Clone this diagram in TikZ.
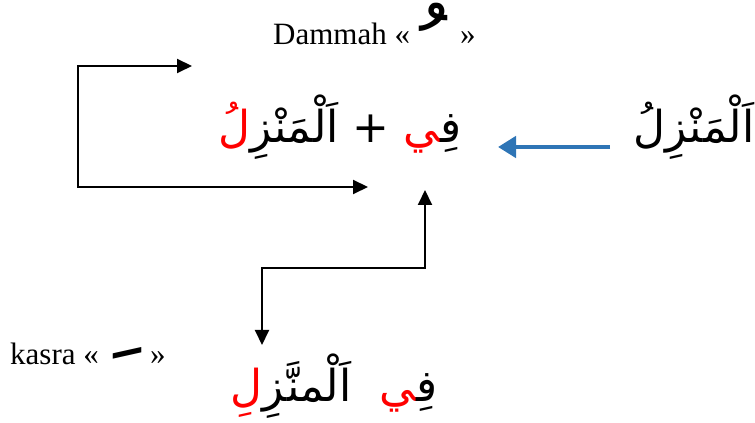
\documentclass[tikz,border=0pt]{standalone}
\usepackage{fontspec}
\setmainfont{Liberation Serif}
\newfontfamily\arabicfont[Script=Arabic]{DejaVu Sans}
\usetikzlibrary{arrows.meta}
\definecolor{arrblue}{RGB}{46,117,182}
\newcommand{\zwj}{\char"200D\relax}
\newcommand{\nbsp}{\char"00A0\relax}
\begin{document}
\begin{tikzpicture}[x=1pt,y=1pt,
  lbl/.style={inner sep=0pt,anchor=base west,font=\fontsize{31}{33}\selectfont},
  ar/.style={inner sep=0pt,anchor=base,font=\arabicfont\fontsize{44}{48}\selectfont},
  diacr/.style={inner sep=0pt,anchor=base,font=\arabicfont\fontsize{100}{100}\selectfont},
  bracket/.style={line width=2pt,{Triangle[length=15pt,width=14pt]}-{Triangle[length=15pt,width=14pt]}},
  blue arrow/.style={line width=4.5pt,arrblue,-{Triangle[length=18pt,width=21pt]}}]
\useasboundingbox (0,0) rectangle (755,423);
% labels
\node[lbl] (dammah) at (273,378) {Dammah «};
\node[lbl] (dclose) at (460,378) {»};
\node[diacr] (dmark) at (424,332) {\nbsp ُ};
\node[lbl] (kasra) at (10,58) {kasra «};
\node[lbl] (kclose) at (150,58) {»};
\node[diacr] (kmark) at (118,77) {\nbsp ِ};
% arabic texts (visual order, left to right)
\node[ar] (src) at (694,280) {اَلْمَنْزِلُ};
\node[ar] (mid) at (340,280) {\textcolor{red}{لُ}اَلْمَنْزِ + \textcolor{red}{\zwj ي}فِ\zwj};
\node[ar] (res) at (334,21) {\textcolor{red}{لِ}اَلْمنَّزِ\ \ \textcolor{red}{\zwj ي}فِ\zwj};
% coordinates
\coordinate (a1) at (368,236);
\coordinate (a2) at (78,236);
\coordinate (a3) at (78,357);
\coordinate (a4) at (192,357);
\coordinate (b1) at (425,233);
\coordinate (b2) at (425,155);
\coordinate (b3) at (262,155);
\coordinate (b4) at (262,78);
\coordinate (c1) at (610,276);
\coordinate (c2) at (498,276);
\draw[bracket] (a1) -- (a2) -- (a3) -- (a4);
\draw[bracket] (b1) -- (b2) -- (b3) -- (b4);
\draw[blue arrow] (c1) -- (c2);
\end{tikzpicture}
\end{document}
